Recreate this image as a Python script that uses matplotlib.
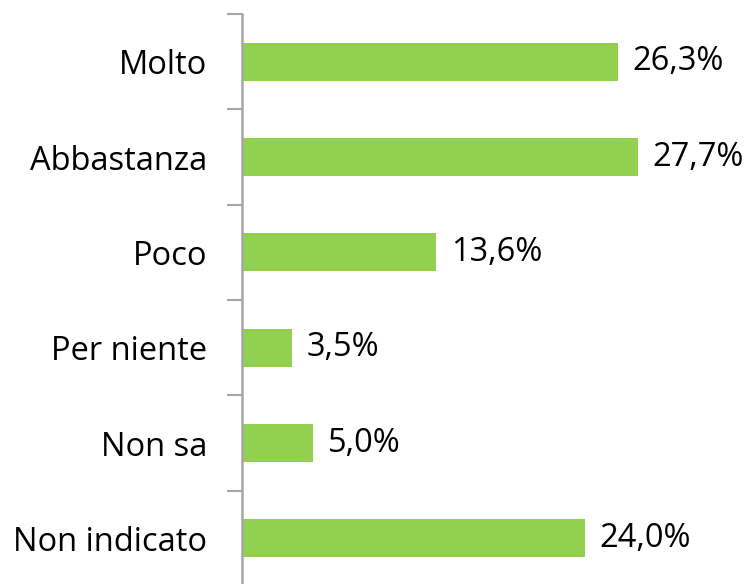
import matplotlib
matplotlib.use('Agg')
import matplotlib.pyplot as plt
from matplotlib.ticker import FixedLocator

categories = ['Molto', 'Abbastanza', 'Poco', 'Per niente', 'Non sa', 'Non indicato']
values = [26.3, 27.7, 13.6, 3.5, 5.0, 24.0]

plt.rcParams['font.family'] = ['Open Sans', 'DejaVu Sans']

fig = plt.figure(figsize=(7.51, 5.84), dpi=100)
ax = fig.add_axes([242 / 751, -2 / 584, 500 / 751, 572 / 584])

ys = list(range(len(categories)))
ax.barh(ys, values, height=0.4, color='#92D050')
ax.set_ylim(len(categories) - 0.5, -0.5)
ax.set_xlim(0, 35)

# value labels, decimal comma
for y, v in zip(ys, values):
    ax.text(v + 1.05, y, f'{v:.1f}%'.replace('.', ','), va='center', ha='left',
            fontsize=23.5, color='black')

ax.set_yticks(ys)
ax.set_yticklabels(categories, fontsize=23.5)
ax.yaxis.set_minor_locator(FixedLocator([i - 0.5 for i in range(len(categories) + 1)]))
ax.tick_params(axis='y', which='major', length=0, pad=25)
ax.tick_params(axis='y', which='minor', length=11, width=1.5, color='#A6A6A6')
ax.set_xticks([])

for s in ['top', 'right', 'bottom']:
    ax.spines[s].set_visible(False)
ax.spines['left'].set_color('#A6A6A6')
ax.spines['left'].set_linewidth(1.8)

fig.savefig('out.png', dpi=100)
